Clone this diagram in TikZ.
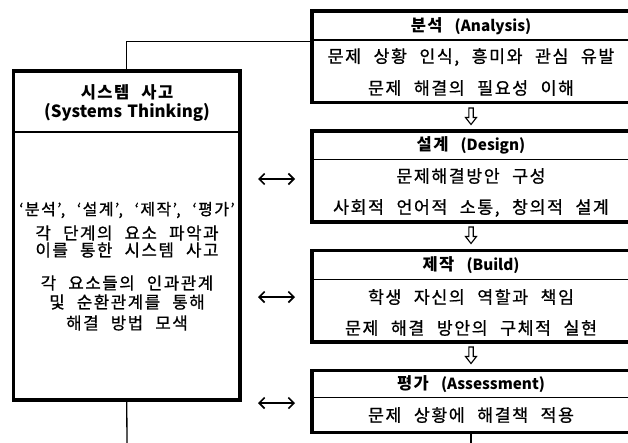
\documentclass[tikz,border=0pt]{standalone}
\usepackage{fontspec}
\setmainfont{Noto Sans CJK KR}[LetterSpace=9, WordSpace=2.3, UprightFeatures={FakeBold=0.8}]
\newfontfamily\latf{Noto Sans CJK KR}[WordSpace=1.4]
\usetikzlibrary{arrows.meta}
\newcommand{\lat}[1]{{\latf\fontsize{15.3}{17}\selectfont\bfseries #1}}
\newcommand{\latbig}[1]{{\latf\fontsize{16.8}{19}\selectfont\bfseries #1}}
\begin{document}
\begin{tikzpicture}[x=1pt,y=-1pt,
  rbox/.style={draw, line width=3.8pt, outer sep=0pt, inner sep=0pt, anchor=north west},
  sep/.style={line width=1.2pt},
  conn/.style={line width=1.3pt},
  txt/.style={inner sep=0pt, font=\fontsize{17.3}{19}\selectfont},
  ltxt/.style={inner sep=0pt, font=\fontsize{16.8}{19}\selectfont},
  hdr/.style={inner sep=0pt, font=\fontsize{16.5}{19}\selectfont\bfseries},
  dbl/.style={line width=1.6pt, {Straight Barb[length=5.5pt,width=11pt]}-{Straight Barb[length=5.5pt,width=11pt]}},
  hollow/.style={line width=1.1pt, fill=white, line join=miter}]
\useasboundingbox (0,0) rectangle (628,442);
\clip (0,0) rectangle (628,442);
% left box
\node[rbox, minimum width=226.5pt, minimum height=329pt] (L) at (13.5,71) {};
\draw[sep] (L.west |- 0,132) -- (L.east |- 0,132);
\node[hdr] (Lt1) at (127,92) {시스템 사고};
\node[hdr] (Lt2) at (127,112) {\latbig{(Systems Thinking)}};
\node[ltxt, font=\fontsize{16}{19}\selectfont] (Lb1) at (127,210) {`분석', `설계', `제작', `평가'};
\node[ltxt] (Lb2) at (127,233) {각 단계의 요소 파악과};
\node[ltxt] (Lb3) at (127,250) {이를 통한 시스템 사고};
\node[ltxt] (Lb4) at (127,283) {각 요소들의 인과관계};
\node[ltxt] (Lb5) at (127,302) {및 순환관계를 통해};
\node[ltxt] (Lb6) at (127,323) {해결 방법 모색};
% right boxes
\node[rbox, minimum width=340pt, minimum height=91.2pt] (b1) at (311.7,11.3) {};
\node[rbox, minimum width=340pt, minimum height=90.7pt] (b2) at (311.7,131.3) {};
\node[rbox, minimum width=340pt, minimum height=91.2pt] (b3) at (311.7,250.5) {};
\node[rbox, minimum width=340pt, minimum height=62pt] (b4) at (311.7,370.5) {};
\draw[sep] (b1.west |- 0,40) -- (b1.east |- 0,40);
\draw[sep] (b2.west |- 0,159.3) -- (b2.east |- 0,159.3);
\draw[sep] (b3.west |- 0,279.3) -- (b3.east |- 0,279.3);
\draw[sep] (b4.west |- 0,397.3) -- (b4.east |- 0,397.3);
\node[hdr] (h1) at (471,26) {분석 \lat{(Analysis)}};
\node[txt] (t11) at (471,57) {문제 상황 인식, 흥미와 관심 유발};
\node[txt] (t12) at (471,88) {문제 해결의 필요성 이해};
\node[hdr] (h2) at (471,145.5) {설계 \lat{(Design)}};
\node[txt] (t21) at (471,176) {문제해결방안 구성};
\node[txt] (t22) at (471,208) {사회적 언어적 소통, 창의적 설계};
\node[hdr] (h3) at (471,265) {제작 \lat{(Build)}};
\node[txt] (t31) at (471,297) {학생 자신의 역할과 책임};
\node[txt] (t32) at (471,328) {문제 해결 방안의 구체적 실현};
\node[hdr] (h4) at (471,384) {평가 \lat{(Assessment)}};
\node[txt] (t41) at (471,415) {문제 상황에 해결책 적용};
% hollow down arrows
\foreach \yy in {108,227,347}
  \draw[hollow] (471,\yy) ++(-2.2,0) -- ++(4.4,0) -- ++(0,9.5) -- ++(3.3,0) -- ++(-5.5,7) -- ++(-5.5,-7) -- ++(3.3,0) -- cycle;
% connectors
\draw[conn] (L.north) |- (b1.west |- 0,41.7);
\coordinate (e1) at (127,446);
\coordinate (e2) at (471,446);
\draw[conn] (L.south) -- (e1);
\draw[conn] (b4.south -| e2) -- (e2);
% double arrows
\coordinate (d1a) at (258,179); \coordinate (d1b) at (295,179);
\coordinate (d2a) at (258,297); \coordinate (d2b) at (295,297);
\coordinate (d3a) at (258,403); \coordinate (d3b) at (295,403);
\draw[dbl] (d1a) -- (d1b);
\draw[dbl] (d2a) -- (d2b);
\draw[dbl] (d3a) -- (d3b);
\end{tikzpicture}
\end{document}
